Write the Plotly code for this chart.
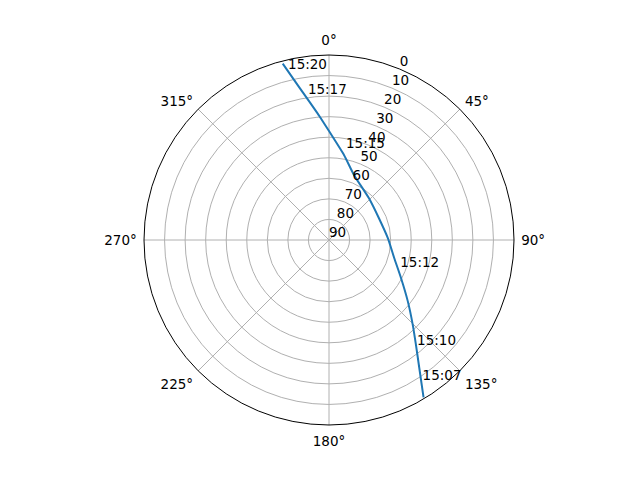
import plotly.graph_objects as go

# Satellite pass track (azimuth deg clockwise from N, elevation deg)
track_az = [149.0, 144.8, 140.3, 135.3, 127.9, 117.8, 105.4, 88.0, 66.5, 43.8, 21.0, 10.0, 0.0, 355.6, 348.8, 345.3]
track_el = [0.7, 13.8, 23.8, 32.1, 41.4, 50.4, 57.1, 61.4, 63.5, 61.9, 56.1, 48.0, 37.0, 29.6, 13.8, 1.3]

# Time labels
label_text = ["15:07", "15:10", "15:12", "15:15", "15:17", "15:20"]
label_az = [146.9, 141.0, 112.8, 10.8, 351.6, 346.3]
label_el = [6.6, 21.9, 52.4, 45.9, 19.7, 5.9]

radial_ticks = [0, 10, 20, 30, 40, 50, 60, 70, 80, 90]
radial_label_angle = 22.5
angular_ticks = [0, 45, 90, 135, 180, 225, 270, 315]

font = dict(family="DejaVu Sans", size=13.5, color="black")

fig = go.Figure()
fig.add_trace(go.Scatterpolar(
    r=track_el, theta=track_az, mode="lines",
    line=dict(color="#1f77b4", width=2, shape="spline", smoothing=0.6),
    showlegend=False, hoverinfo="skip"))
fig.add_trace(go.Scatterpolar(
    r=label_el, theta=label_az, mode="text", text=label_text,
    textposition="top right", textfont=font, showlegend=False, hoverinfo="skip"))
# radial tick labels placed along the 22.5 deg direction
fig.add_trace(go.Scatterpolar(
    r=radial_ticks, theta=[radial_label_angle] * len(radial_ticks), mode="text",
    text=[str(t) for t in radial_ticks], textposition="top right", textfont=font,
    showlegend=False, hoverinfo="skip", cliponaxis=False))

fig.update_layout(
    width=640, height=480,
    margin=dict(l=136, r=134, t=47, b=63),
    paper_bgcolor="white",
    font=font,
    polar=dict(
        bgcolor="white",
        angularaxis=dict(
            rotation=90, direction="clockwise",
            tickvals=angular_ticks, ticktext=[f"{a}°" for a in angular_ticks],
            showline=True, linecolor="black", linewidth=1,
            gridcolor="#b0b0b0", gridwidth=1, ticks="outside", ticklen=4,
            tickcolor="rgba(0,0,0,0)",
            tickfont=font,
        ),
        radialaxis=dict(
            range=[90, 0], tickvals=radial_ticks,
            showticklabels=False,
            angle=67.5,
            showline=False, ticks="",
            gridcolor="#b0b0b0", gridwidth=1,
        ),
    ),
)

fig.write_html("out.html")
